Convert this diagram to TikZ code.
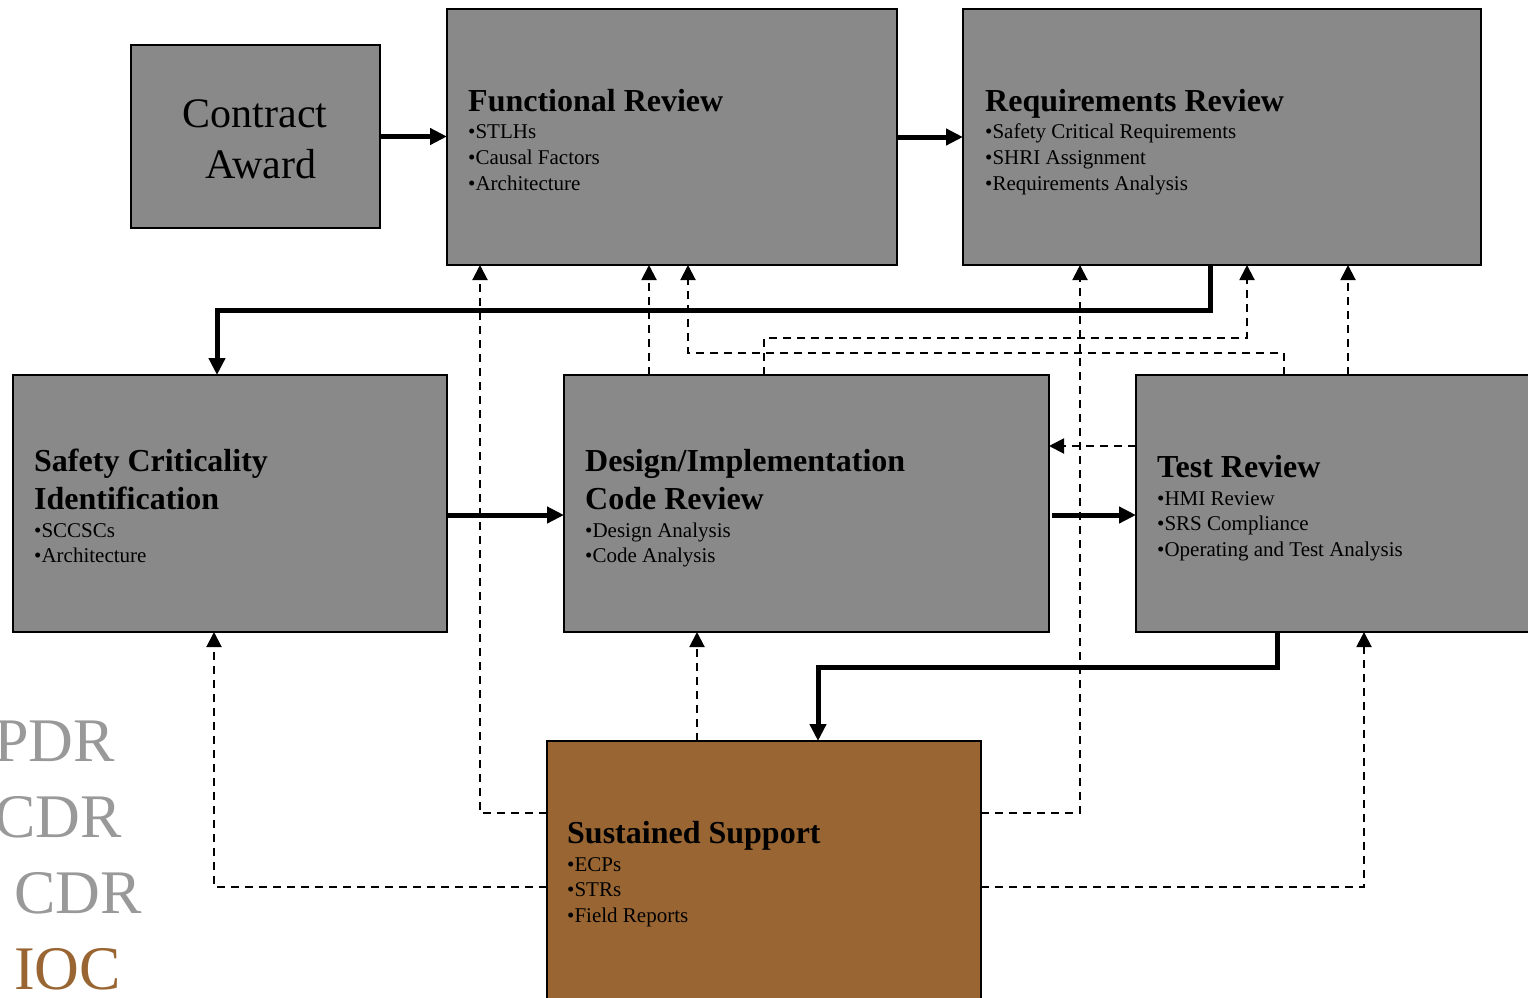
\documentclass[tikz,border=0pt]{standalone}
\usepackage{fontspec}
\setmainfont{Liberation Serif}
\usetikzlibrary{arrows.meta}
\definecolor{boxgray}{HTML}{898989}
\definecolor{brownfill}{HTML}{996633}
\definecolor{lblgray}{HTML}{999999}
\begin{document}
\begin{tikzpicture}[x=1pt,y=-1pt,
 box/.style={draw=black,line width=1.5pt,fill=boxgray,anchor=north west,inner sep=0pt,outer sep=0pt},
 ttl/.style={anchor=base west,inner sep=0pt,font=\fontsize{32}{38}\selectfont\bfseries},
 itm/.style={anchor=base west,inner sep=0pt,font=\fontsize{21}{25}\selectfont},
 big/.style={anchor=base,inner sep=0pt,font=\fontsize{42}{50}\selectfont},
 flow/.style={line width=5pt,-{Triangle[length=17pt,width=16pt]}},
 dep/.style={line width=2pt,dash pattern=on 8pt off 6pt,-{Triangle[length=15pt,width=15pt]}},
 phase/.style={anchor=base west,inner sep=0pt,font=\fontsize{62}{70}\selectfont}]
\useasboundingbox (0,0) rectangle (1528,997);

% boxes
\node[box,minimum width=249pt,minimum height=183pt] (ca) at (131,45) {};
\node[box,minimum width=450pt,minimum height=256pt] (fr) at (447,9) {};
\node[box,minimum width=518pt,minimum height=256pt] (rr) at (963,9) {};
\node[box,minimum width=434pt,minimum height=257pt] (sc) at (13,375) {};
\node[box,minimum width=485pt,minimum height=257pt] (di) at (564,375) {};
\node[box,minimum width=410pt,minimum height=257pt] (tr) at (1136,375) {};
\node[box,fill=brownfill,minimum width=434pt,minimum height=270pt] (ss) at (547,741) {};

% texts
\node[big] (caa) at (255,127) {Contract};
\node[big] (cab) at (261,178) {Award};

\node[ttl] (frt) at (468,111) {Functional Review};
\node[itm] (fr1) at (468,138) {•STLHs};
\node[itm] (fr2) at (468,164) {•Causal Factors};
\node[itm] (fr3) at (468,190) {•Architecture};

\node[ttl] (rrt) at (985,111) {Requirements Review};
\node[itm] (rr1) at (985,138) {•Safety Critical Requirements};
\node[itm] (rr2) at (985,164) {•SHRI Assignment};
\node[itm] (rr3) at (985,190) {•Requirements Analysis};

\node[ttl] (sct1) at (34,471) {Safety Criticality};
\node[ttl] (sct2) at (34,509) {Identification};
\node[itm] (sc1) at (34,537) {•SCCSCs};
\node[itm] (sc2) at (34,562) {•Architecture};

\node[ttl] (dit1) at (585,471) {Design/Implementation};
\node[ttl] (dit2) at (585,509) {Code Review};
\node[itm] (di1) at (585,537) {•Design Analysis};
\node[itm] (di2) at (585,562) {•Code Analysis};

\node[ttl] (trt) at (1157,477) {Test Review};
\node[itm] (tr1) at (1157,505) {•HMI Review};
\node[itm] (tr2) at (1157,530) {•SRS Compliance};
\node[itm] (tr3) at (1157,556) {•Operating and Test Analysis};

\node[ttl] (sst) at (567,843) {Sustained Support};
\node[itm] (ss1) at (567,871) {•ECPs};
\node[itm] (ss2) at (567,896) {•STRs};
\node[itm] (ss3) at (567,922) {•Field Reports};

% phase labels
\node[phase,text=lblgray] (pdr) at (-6,761) {PDR};
\node[phase,text=lblgray] (cdr1) at (-6,837) {CDR};
\node[phase,text=lblgray] (cdr2) at (14,913) {CDR};
\node[phase,text=brownfill] (ioc) at (14,989) {IOC};

% main flow
\draw[flow] (ca.east) -- (ca.east -| fr.west);
\draw[flow] (fr.east) -- (fr.east -| rr.west);
\draw[flow] ([xshift=247pt]rr.south west) -- ++(0,45) -| ([xshift=204pt]sc.north west);
\draw[flow] ([yshift=-11.5pt]sc.east) -- ([yshift=-11.5pt]sc.east -| di.west);
\draw[flow] ([xshift=3pt,yshift=-11.5pt]di.east) -- ([yshift=-11.5pt]di.east -| tr.west);
\draw[flow] ([xshift=141pt]tr.south west) -- ++(0,35) -| ([xshift=271pt]ss.north west);

% feedback (dashed)
\draw[dep] ([yshift=-72pt]ss.north west) -| ([xshift=33pt]fr.south west);
\draw[dep] ([yshift=-146pt]ss.north west) -| ([xshift=201pt]sc.south west);
\draw[dep] ([xshift=150pt]ss.north west) -- ([xshift=150pt]ss.north west |- di.south);
\draw[dep] ([yshift=-72pt]ss.north east) -| ([xshift=117pt]rr.south west);
\draw[dep] ([yshift=-146pt]ss.north east) -| ([xshift=228pt]tr.south west);
\draw[dep] ([xshift=85pt]di.north west) -- ([xshift=85pt]di.north west |- fr.south);
\draw[dep] ([xshift=200pt]di.north west) -- ++(0,-37) -| ([xshift=284pt]rr.south west);
\draw[dep] ([xshift=148pt]tr.north west) -- ++(0,-22) -| ([xshift=241pt]fr.south west);
\draw[dep] ([xshift=212pt]tr.north west) -- ([xshift=212pt]tr.north west |- rr.south);
\draw[dep] ([yshift=-71pt]tr.north west) -- ([yshift=-71pt]tr.north west -| di.east);
\end{tikzpicture}
\end{document}
